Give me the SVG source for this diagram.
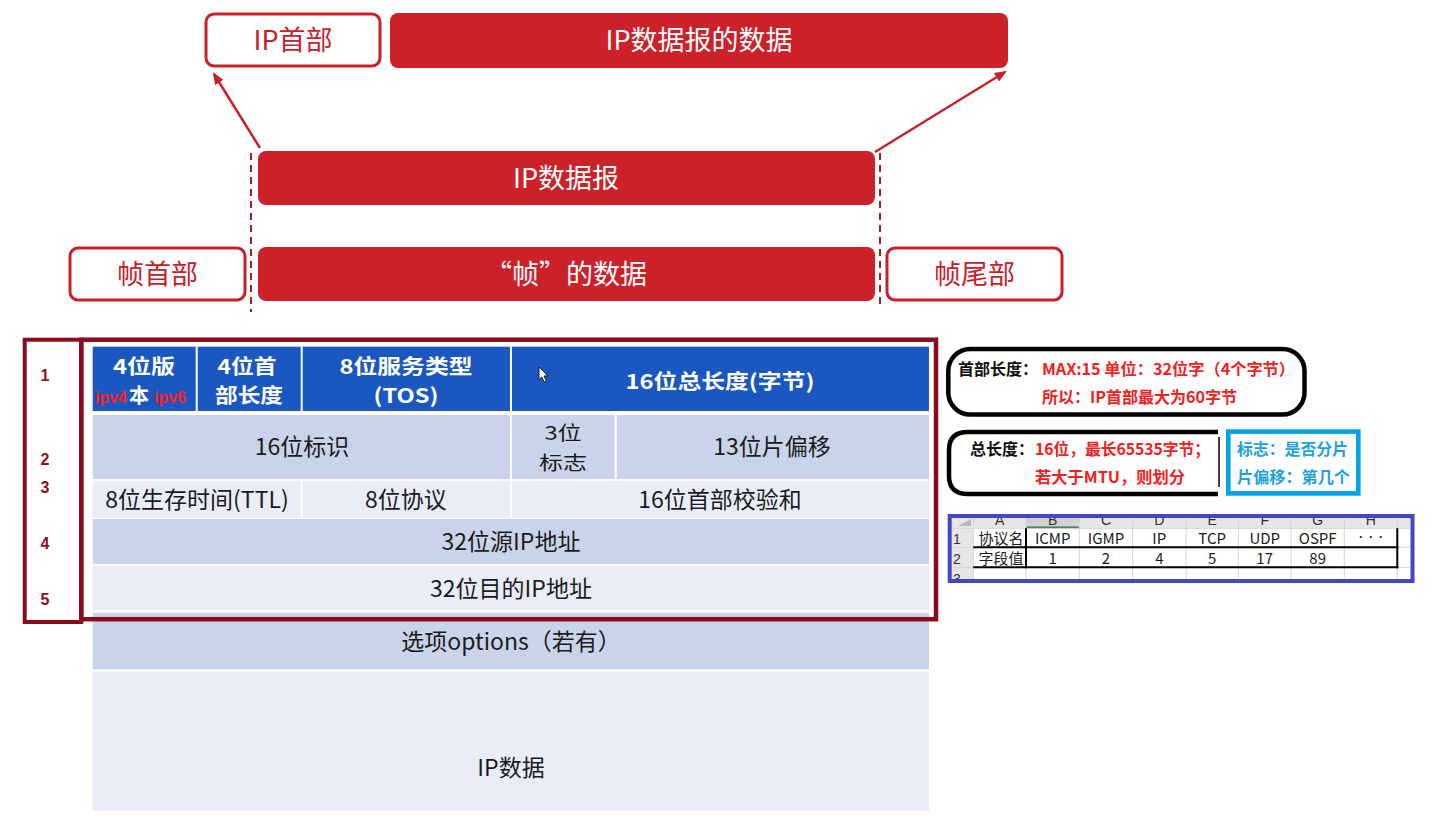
<svg xmlns="http://www.w3.org/2000/svg" width="1439" height="821" viewBox="0 0 1439 821">
<style>
  text { font-family: "Noto Sans CJK SC", "Noto Sans", "Liberation Sans", sans-serif; }
  .top { font-size: 27px; text-anchor: middle; }
  .wt { fill: #ffffff; }
  .rd { fill: #c8202a; }
  .boxo { fill: #ffffff; stroke: #c8202a; stroke-width: 3; }
  .boxf { fill: #cd2129; }
  .dash { stroke: #a31f27; stroke-width: 2; stroke-dasharray: 7 5; fill: none; }
  .arr { stroke: #c8202a; stroke-width: 2.5; fill: none; }
  .hdr { font-size: 20px; font-weight: 700; fill: #ffffff; text-anchor: middle; }
  .body { font-size: 23px; fill: #1b1b1b; text-anchor: middle; }
  .body.sm { font-size: 19px; }
  .dark { fill: #c9d3ea; }
  .light { fill: #e8edf8; }
  .blue { fill: #1b57c1; }
  .sep { stroke: #ffffff; stroke-width: 2; }
  .num { font-size: 16px; font-weight: 700; fill: #9a0a1e; text-anchor: middle; font-family: "Liberation Sans", sans-serif; }
  .maroon { fill: none; stroke: #8a0a1c; }
  .note { font-size: 16px; font-weight: 700; }
  .blk { fill: #111111; }
  .red { fill: #f52020; }
  .cy { fill: #1e9fe0; }
  .xl { font-size: 15px; fill: #1a1a1a; text-anchor: middle; }
  .xh { font-size: 14px; fill: #333333; text-anchor: middle; font-family: "Liberation Sans", sans-serif; }
  .grid { stroke: #d4d4d4; stroke-width: 1; }
  .thick { stroke: #000000; stroke-width: 2; }
  .ipv { font-family: "Liberation Sans", sans-serif; font-size: 16px; font-weight: 700; fill: #ff2020; }
</style>
<defs>
  <marker id="ah" markerWidth="12" markerHeight="10" refX="10" refY="5" orient="auto" markerUnits="userSpaceOnUse">
    <path d="M0,0 L12,5 L0,10 z" fill="#c8202a"/>
  </marker>
  <clipPath id="xlclip"><rect x="951.7" y="517.7" width="458.3" height="61.3"/></clipPath>
</defs>

<!-- top encapsulation diagram -->
<g id="ip-header">
  <rect class="boxo" x="206" y="14" width="174" height="52" rx="8"/>
  <text class="top rd" x="293" y="50">IP首部</text>
</g>
<g id="ip-payload">
  <rect class="boxf" x="390" y="13" width="618" height="55" rx="8"/>
  <text class="top wt" x="699" y="50">IP数据报的数据</text>
</g>
<g id="ip-datagram">
  <rect class="boxf" x="258" y="151" width="617" height="54" rx="8"/>
  <text class="top wt" x="566" y="188">IP数据报</text>
</g>
<g id="frame-header">
  <rect class="boxo" x="70" y="248" width="175" height="52" rx="8"/>
  <text class="top rd" x="157.5" y="284">帧首部</text>
</g>
<g id="frame-data">
  <rect class="boxf" x="258" y="247" width="617" height="54" rx="8"/>
  <text class="top wt" x="566" y="284">“帧”的数据</text>
</g>
<g id="frame-trailer">
  <rect class="boxo" x="887" y="248" width="175" height="52" rx="8"/>
  <text class="top rd" x="974.5" y="284">帧尾部</text>
</g>

<g id="connectors">
  <line class="dash" x1="251" y1="153" x2="251" y2="312"/>
  <line class="dash" x1="880" y1="153" x2="880" y2="305"/>
  <line class="arr" x1="260" y1="148" x2="214" y2="74" marker-end="url(#ah)"/>
  <line class="arr" x1="875" y1="152" x2="1005" y2="72" marker-end="url(#ah)"/>
</g>

<!-- IP header table -->
<g id="ip-table">
  <rect class="blue" x="92.7" y="346.7" width="836.3" height="64.3"/>
  <line class="sep" x1="196.7" y1="346.7" x2="196.7" y2="411"/>
  <line class="sep" x1="301.7" y1="346.7" x2="301.7" y2="411"/>
  <line class="sep" x1="511" y1="346.7" x2="511" y2="411"/>

  <rect class="dark" x="92.7" y="415" width="836.3" height="64"/>
  <line class="sep" x1="511" y1="415" x2="511" y2="479"/>
  <line class="sep" x1="615.7" y1="415" x2="615.7" y2="479"/>

  <rect class="light" x="92.7" y="480.7" width="836.3" height="37"/>
  <line class="sep" x1="301.7" y1="480.7" x2="301.7" y2="517.7"/>
  <line class="sep" x1="511" y1="480.7" x2="511" y2="517.7"/>

  <rect class="dark" x="92.7" y="519" width="836.3" height="45"/>
  <rect class="light" x="92.7" y="565.7" width="836.3" height="44.3"/>
  <rect class="dark" x="92.7" y="612.7" width="836.3" height="56.6"/>
  <rect class="light" x="92.7" y="671.7" width="836.3" height="139"/>

  <text class="hdr" x="144" y="374" textLength="62" lengthAdjust="spacingAndGlyphs">4位版</text>
  <text x="95" y="403"><tspan class="ipv">ipv4</tspan><tspan font-size="20" font-weight="700" fill="#ffffff" dx="2">本</tspan><tspan class="ipv" dx="5">ipv6</tspan></text>
  <text class="hdr" x="247" y="374" textLength="59" lengthAdjust="spacingAndGlyphs">4位首</text>
  <text class="hdr" x="249" y="403" textLength="68" lengthAdjust="spacingAndGlyphs">部长度</text>
  <text class="hdr" x="406" y="374" textLength="133" lengthAdjust="spacingAndGlyphs">8位服务类型</text>
  <text class="hdr" x="406" y="403" textLength="65" lengthAdjust="spacingAndGlyphs">(TOS)</text>
  <text class="hdr" x="720" y="389" textLength="189" lengthAdjust="spacingAndGlyphs">16位总长度(字节)</text>

  <text class="body" x="302" y="455">16位标识</text>
  <text class="body sm" x="563" y="440" textLength="37" lengthAdjust="spacingAndGlyphs">3位</text>
  <text class="body sm" x="563" y="470" textLength="48" lengthAdjust="spacingAndGlyphs">标志</text>
  <text class="body" x="772" y="455">13位片偏移</text>

  <text class="body" x="197" y="508">8位生存时间(TTL)</text>
  <text class="body" x="406" y="508">8位协议</text>
  <text class="body" x="720" y="508">16位首部校验和</text>

  <text class="body" x="511" y="550">32位源IP地址</text>
  <text class="body" x="511" y="597">32位目的IP地址</text>
  <text class="body" x="511" y="650">选项options（若有）</text>
  <text class="body" x="511" y="776">IP数据</text>

  <path d="M539,367 L539,379.5 L541.8,377 L544.2,382 L546.4,381 L544,376 L547.8,375.8 Z" fill="#ffffff" stroke="#000000" stroke-width="0.8"/>
</g>

<g id="row-numbers">
  <rect class="maroon" x="24.7" y="339.7" width="56.6" height="282.3" stroke-width="4"/>
  <rect class="maroon" x="81.3" y="339.7" width="854.7" height="279.5" stroke-width="4.5"/>
  <text class="num" x="45" y="381">1</text>
  <text class="num" x="45" y="465">2</text>
  <text class="num" x="45" y="492.5">3</text>
  <text class="num" x="45" y="548.5">4</text>
  <text class="num" x="45" y="604.5">5</text>
</g>

<!-- notes -->
<g id="note-header-length">
  <rect x="948.3" y="349" width="356.2" height="65.5" rx="22" ry="22" fill="#ffffff" stroke="#000000" stroke-width="4.5"/>
  <text class="note blk" x="958" y="375">首部长度：</text>
  <text class="note red" x="1042" y="375" textLength="253" lengthAdjust="spacingAndGlyphs">MAX:15 单位：32位字（4个字节）</text>
  <text class="note red" x="1042" y="403" textLength="195" lengthAdjust="spacingAndGlyphs">所以：IP首部最大为60字节</text>
</g>
<g id="note-total-length">
  <path d="M1218,432 H968 Q949,432 949,450 V476 Q949,494 968,494 H1218" fill="#ffffff" stroke="#000000" stroke-width="4.5"/>
  <line x1="1219" y1="437" x2="1219" y2="487" stroke="#000000" stroke-width="1.5"/>
  <text class="note blk" x="970" y="455">总长度：</text>
  <text class="note red" x="1035" y="455" textLength="175" lengthAdjust="spacingAndGlyphs">16位，最长65535字节；</text>
  <text class="note red" x="1035" y="483" textLength="150" lengthAdjust="spacingAndGlyphs">若大于MTU，则划分</text>
</g>
<g id="note-flags">
  <rect x="1228.3" y="431.6" width="130" height="61.8" fill="#ffffff" stroke="#00a2e8" stroke-width="4.6"/>
  <text class="note cy" x="1237" y="455" textLength="111" lengthAdjust="spacingAndGlyphs">标志：是否分片</text>
  <text class="note cy" x="1237" y="483" textLength="113" lengthAdjust="spacingAndGlyphs">片偏移：第几个</text>
</g>

<g id="protocol-table">
  <g clip-path="url(#xlclip)">
    <rect x="951.7" y="517.7" width="458.3" height="61.3" fill="#ffffff"/>
    <rect x="951.7" y="510" width="458.3" height="18.3" fill="#e6e6e6"/>
    <rect x="1026" y="510" width="53.3" height="18.3" fill="#d2d2d2"/>
    <line x1="1026" y1="527.5" x2="1079.3" y2="527.5" stroke="#217346" stroke-width="2"/>
    <rect x="951.7" y="528.3" width="21.6" height="52" fill="#e6e6e6"/>
    <path d="M958,526 L971,526 L971,519 Z" fill="#b8b8b8"/>
    <g class="grid">
      <line x1="973.3" y1="510" x2="973.3" y2="580"/>
      <line x1="1079.3" y1="510" x2="1079.3" y2="580"/>
      <line x1="1132.7" y1="510" x2="1132.7" y2="580"/>
      <line x1="1186" y1="510" x2="1186" y2="580"/>
      <line x1="1238.3" y1="510" x2="1238.3" y2="580"/>
      <line x1="1291" y1="510" x2="1291" y2="580"/>
      <line x1="1344.3" y1="510" x2="1344.3" y2="580"/>
      <line x1="1397.3" y1="510" x2="1397.3" y2="580"/>
      <line x1="1026" y1="510" x2="1026" y2="580"/>
      <line x1="951.7" y1="528.3" x2="1410" y2="528.3"/>
      <line x1="951.7" y1="547.3" x2="1410" y2="547.3"/>
      <line x1="951.7" y1="567.3" x2="1410" y2="567.3"/>
    </g>
    <g class="thick">
      <line x1="973.3" y1="547.3" x2="1398.3" y2="547.3"/>
      <line x1="973.3" y1="567.3" x2="1398.3" y2="567.3"/>
      <line x1="1026" y1="528.3" x2="1026" y2="568.3"/>
      <line x1="1397.3" y1="528.3" x2="1397.3" y2="568.3"/>
    </g>
    <text class="xh" x="999.6" y="525">A</text>
    <text class="xh" x="1052.7" y="525">B</text>
    <text class="xh" x="1106" y="525">C</text>
    <text class="xh" x="1159.3" y="525">D</text>
    <text class="xh" x="1212.2" y="525">E</text>
    <text class="xh" x="1264.7" y="525">F</text>
    <text class="xh" x="1317.7" y="525">G</text>
    <text class="xh" x="1370.8" y="525">H</text>
    <text class="xh" x="957" y="544" text-anchor="start">1</text>
    <text class="xh" x="957" y="564" text-anchor="start">2</text>
    <text class="xh" x="957" y="584" text-anchor="start">3</text>
    <text class="xl" x="1001" y="544">协议名</text>
    <text class="xl" x="1052.7" y="544">ICMP</text>
    <text class="xl" x="1106" y="544">IGMP</text>
    <text class="xl" x="1159.3" y="544">IP</text>
    <text class="xl" x="1212.2" y="544">TCP</text>
    <text class="xl" x="1264.7" y="544">UDP</text>
    <text class="xl" x="1317.7" y="544">OSPF</text>
    <text x="1370.8" y="541" font-size="10" fill="#1a1a1a" text-anchor="middle" font-family="Liberation Sans, sans-serif">···</text>
    <text class="xl" x="1001" y="564">字段值</text>
    <text class="xl" x="1052.7" y="564">1</text>
    <text class="xl" x="1106" y="564">2</text>
    <text class="xl" x="1159.3" y="564">4</text>
    <text class="xl" x="1212.2" y="564">5</text>
    <text class="xl" x="1264.7" y="564">17</text>
    <text class="xl" x="1317.7" y="564">89</text>
  </g>
  <rect x="949.7" y="516" width="462.8" height="65" fill="none" stroke="#4347c6" stroke-width="4"/>
</g>
</svg>
